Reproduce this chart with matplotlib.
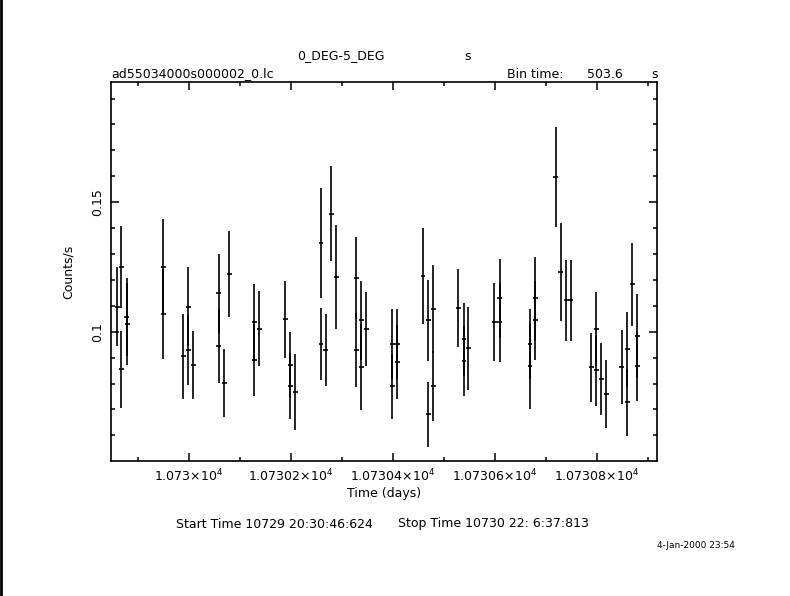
import matplotlib
matplotlib.use('Agg')
import matplotlib.pyplot as plt
from matplotlib.lines import Line2D
from matplotlib.ticker import FixedLocator, MultipleLocator

# ---- data ----
time_days = [
    10729.8593, 10729.8671, 10729.8671, 10729.8774, 10729.8789,
    10729.9496, 10729.9496, 10729.9888, 10729.9986, 10729.9986,
    10730.0084, 10730.0583, 10730.0583, 10730.0693, 10730.0791,
    10730.1282, 10730.1282, 10730.1380, 10730.1890, 10730.1988,
    10730.1988, 10730.2086, 10730.2591, 10730.2591, 10730.2683,
    10730.2793, 10730.2891, 10730.3284, 10730.3284, 10730.3382,
    10730.3382, 10730.3480, 10730.3990, 10730.3990, 10730.4088,
    10730.4088, 10730.4593, 10730.4697, 10730.4697, 10730.4795,
    10730.4795, 10730.5286, 10730.5397, 10730.5397, 10730.5482,
    10730.5992, 10730.6098, 10730.6098, 10730.6693, 10730.6693,
    10730.6797, 10730.6797, 10730.7197, 10730.7295, 10730.7405,
    10730.7492, 10730.7896, 10730.7994, 10730.7994, 10730.8092,
    10730.8190, 10730.8493, 10730.8603, 10730.8603, 10730.8701,
    10730.8799, 10730.8799,
]
count_rate = [
    0.1097, 0.1250, 0.0855, 0.1057, 0.1030,
    0.1250, 0.1068, 0.0905, 0.1097, 0.0929,
    0.0872, 0.1149, 0.0945, 0.0802, 0.1222,
    0.1037, 0.0890, 0.1011, 0.1048, 0.0872,
    0.0790, 0.0768, 0.1342, 0.0952, 0.0929,
    0.1455, 0.1210, 0.1208, 0.0929, 0.1044,
    0.0863, 0.1010, 0.0952, 0.0790, 0.0952,
    0.0883, 0.1214, 0.1044, 0.0681, 0.1087,
    0.0790, 0.1091, 0.0971, 0.0886, 0.0936,
    0.1037, 0.1129, 0.1037, 0.0952, 0.0867,
    0.1129, 0.1044, 0.1597, 0.1230, 0.1122,
    0.1122, 0.0863, 0.1010, 0.0851, 0.0817,
    0.0759, 0.0863, 0.0932, 0.0728, 0.1183,
    0.0983, 0.0867,
]
rate_error = [
    0.0154, 0.0159, 0.0148, 0.0151, 0.0158,
    0.0186, 0.0174, 0.0165, 0.0151, 0.0135,
    0.0132, 0.0152, 0.0142, 0.0132, 0.0167,
    0.0148, 0.0138, 0.0145, 0.0149, 0.0127,
    0.0126, 0.0146, 0.0211, 0.0138, 0.0138,
    0.0183, 0.0201, 0.0158, 0.0142, 0.0152,
    0.0167, 0.0144, 0.0136, 0.0125, 0.0136,
    0.0142, 0.0186, 0.0156, 0.0126, 0.0171,
    0.0136, 0.0150, 0.0140, 0.0136, 0.0159,
    0.0150, 0.0152, 0.0152, 0.0136, 0.0167,
    0.0159, 0.0152, 0.0192, 0.0190, 0.0156,
    0.0156, 0.0134, 0.0144, 0.0136, 0.0138,
    0.0132, 0.0142, 0.0144, 0.0129, 0.0161,
    0.0163, 0.0134,
]
bin_time_s = 503.6

x_major_ticks = [10730.0, 10730.2, 10730.4, 10730.6, 10730.8]
x_major_labels = ['1.073', '1.07302', '1.07304', '1.07306', '1.07308']
y_major_ticks = [0.10, 0.15]
y_major_labels = ['0.1', '0.15']

W, H = 790, 596
plt.rcParams['font.family'] = ['DejaVu Sans']
plt.rcParams['mathtext.fontset'] = 'dejavusans'

fig = plt.figure(figsize=(W / 100, H / 100), dpi=100)
fig.patch.set_facecolor('white')

def fx(px):
    return px / W

def fy(py):
    return 1 - py / H

ax = fig.add_axes([fx(111), fy(461), (657 - 111) / W, (461 - 82) / H])
ax.errorbar(time_days, count_rate, yerr=rate_error,
            xerr=bin_time_s / 86400.0 * 0.8,
            fmt='none', ecolor='black', elinewidth=1.2, capsize=0)

ax.set_xlim(10729.8469, 10730.9185)
ax.set_ylim(0.0501, 0.1964)

for s in ax.spines.values():
    s.set_linewidth(1.2)
    s.set_color('black')

ax.xaxis.set_major_locator(FixedLocator(x_major_ticks))
ax.set_xticklabels([r'$\mathregular{%s{\times}10^{4}}$' % l for l in x_major_labels],
                   fontsize=9)
ax.xaxis.set_minor_locator(MultipleLocator(0.1))
ax.yaxis.set_major_locator(FixedLocator(y_major_ticks))
ax.set_yticklabels(y_major_labels, fontsize=9, rotation=90, va='center')
ax.yaxis.set_minor_locator(MultipleLocator(0.01))

ax.tick_params(which='both', direction='in', top=True, right=True,
               color='black', width=1.1)
ax.tick_params(which='major', length=6, pad=5)
ax.tick_params(which='minor', length=3)

ax.set_xlabel('Time (days)', fontsize=9, labelpad=2)
ax.set_ylabel('Counts/s', fontsize=9, labelpad=12)

fs = 9
fig.text(fx(341), fy(56), '0_DEG-5_DEG', ha='center', va='center', fontsize=fs)
fig.text(fx(468), fy(56), 's', ha='center', va='center', fontsize=fs)
fig.text(fx(111), fy(74), 'ad55034000s000002_0.lc', ha='left', va='center', fontsize=fs)
fig.text(fx(507), fy(74), 'Bin time:', ha='left', va='center', fontsize=fs)
fig.text(fx(623), fy(74), '503.6', ha='right', va='center', fontsize=fs)
fig.text(fx(655), fy(74), 's', ha='center', va='center', fontsize=fs)
fig.text(fx(176), fy(524), 'Start Time 10729 20:30:46:624', ha='left', va='center', fontsize=fs)
fig.text(fx(398), fy(524), 'Stop Time 10730 22: 6:37:813', ha='left', va='center', fontsize=fs)
fig.text(fx(735), fy(545), '4-Jan-2000 23:54', ha='right', va='center', fontsize=6.5)

fig.add_artist(Line2D([0.5 / W, 0.5 / W], [0, 1], transform=fig.transFigure,
                      color='black', linewidth=2))

fig.savefig('out.png', dpi=100, facecolor='white')
